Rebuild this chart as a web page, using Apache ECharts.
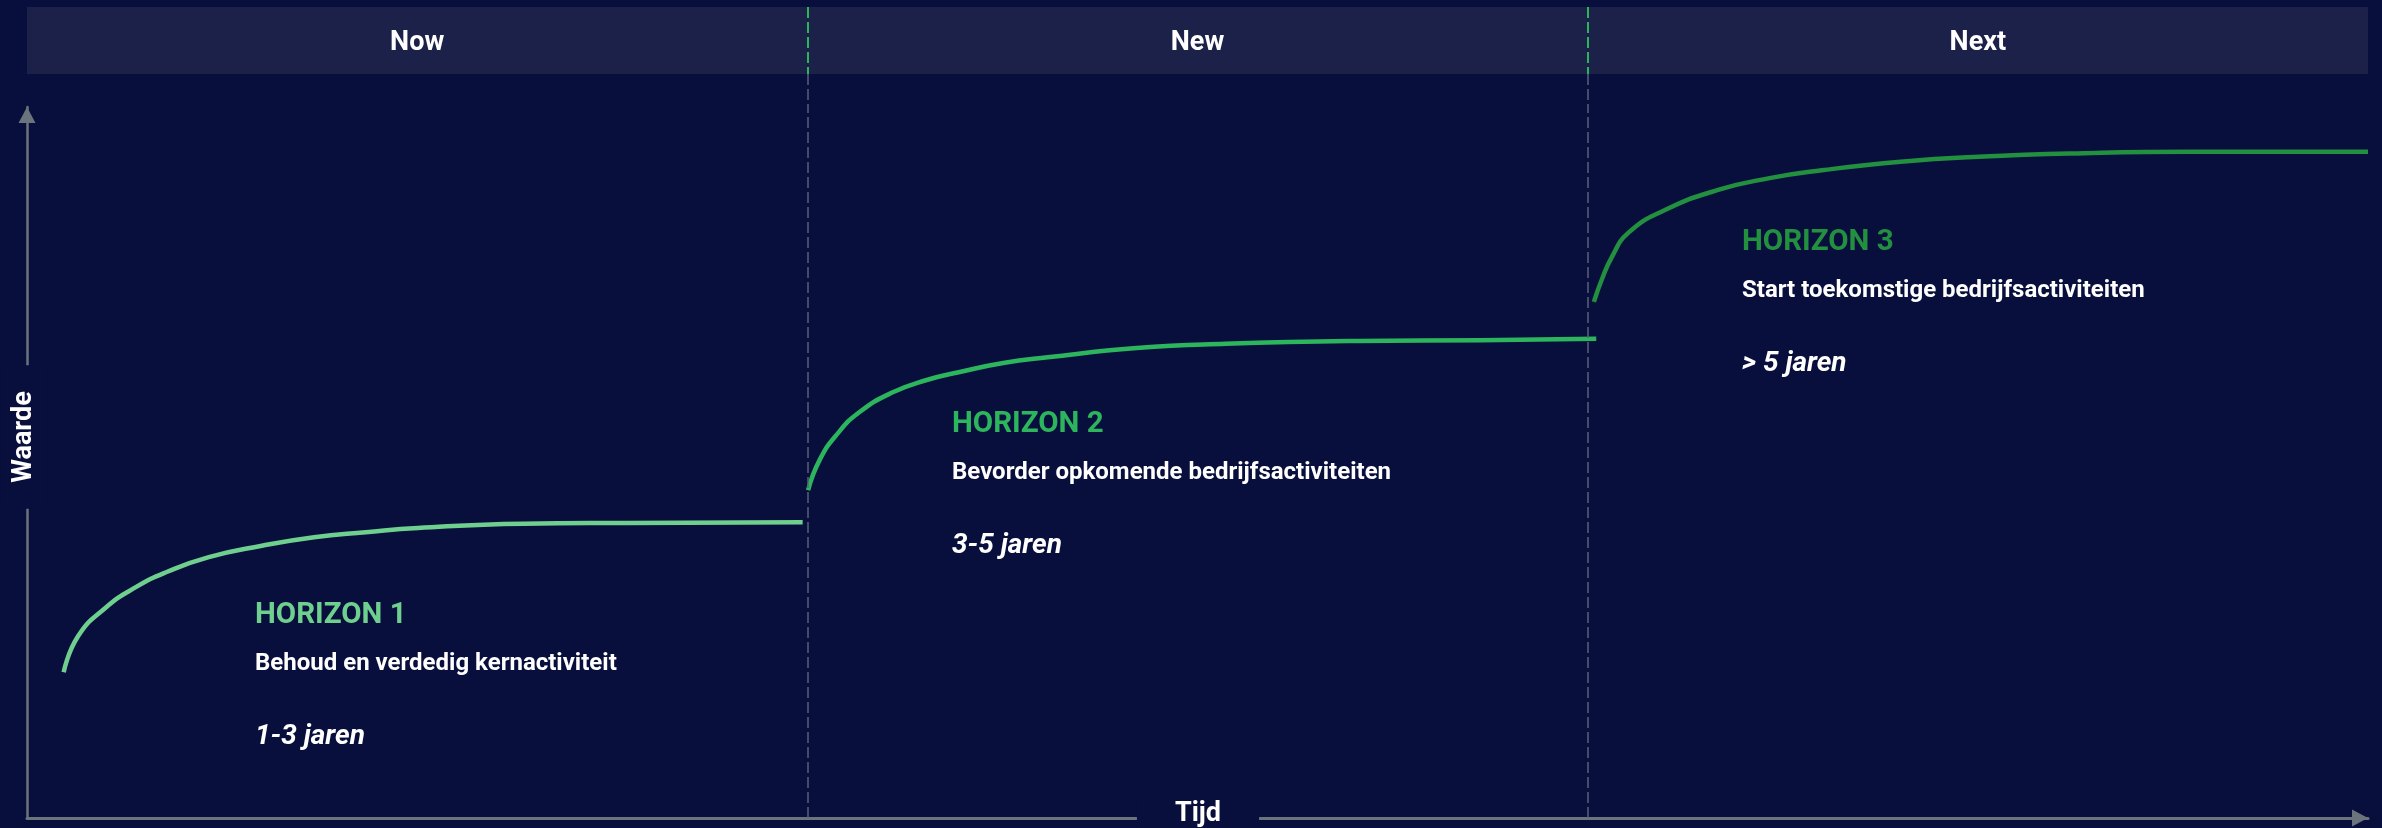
<!DOCTYPE html>
<html lang="nl">
  <head>
    <meta charset="UTF-8" />
    <title>Three horizons</title>
    <style>
      html,
      body {
        margin: 0;
        background: #090f3d;
      }
      #main {
        width: 2382px;
        height: 828px;
      }
    </style>
  </head>
  <body>
    <div id="main"></div>
    <script src="https://cdn.jsdelivr.net/npm/echarts@6/dist/echarts.min.js"></script>
    <script>
      // sections along the time axis
      const sections = ["Now", "New", "Next"];
      const horizonTitles = ["HORIZON 1", "HORIZON 2", "HORIZON 3"];
      const horizonTexts = [
        "Behoud en verdedig kernactiviteit",
        "Bevorder opkomende bedrijfsactiviteiten",
        "Start toekomstige bedrijfsactiviteiten",
      ];
      const horizonTerms = ["1-3 jaren", "3-5 jaren", "> 5 jaren"];
      const axisNames = ["Tijd", "Waarde"];

      // [tijd, waarde]
      const horizon1 = [
        [0.047, 20.5], [0.065, 25.5], [0.1, 29.5], [0.14, 32.5], [0.179, 34.6],
        [0.233, 36.7], [0.301, 38.3], [0.368, 39.5], [0.434, 40.2], [0.501, 40.8],
        [0.636, 41.4], [0.77, 41.5], [0.994, 41.6],
      ];
      const horizon2 = [
        [1.001, 46.1], [1.016, 50.4], [1.039, 54.1], [1.067, 57.1], [1.108, 59.8],
        [1.153, 61.6], [1.194, 62.7], [1.251, 64.0], [1.308, 64.8], [1.422, 66.1],
        [1.536, 66.7], [1.708, 67.1], [1.862, 67.2], [2.011, 67.4],
      ];
      const horizon3 = [
        [2.008, 72.6], [2.018, 75.7], [2.031, 78.9], [2.052, 82.3], [2.099, 85.5],
        [2.166, 88.3], [2.233, 90.0], [2.3, 91.1], [2.401, 92.3], [2.501, 93.0],
        [2.636, 93.5], [2.77, 93.7], [3.0, 93.7],
      ];

      const bg = "#090f3d";
      const axisGrey = "#6b737d";
      const colors = ["#6fcf8f", "#2db55d", "#22903f"];
      // left / middle of each text block, in px
      const textAnchors = [
        [255, 616],
        [952, 425],
        [1742, 243],
      ];

      const chart = echarts.init(document.getElementById("main"));

      const texts = [];
      horizonTitles.forEach((t, i) => {
        const [x, y] = textAnchors[i];
        texts.push(
          { type: "text", x: x, y: y, style: { text: t, fill: colors[i], font: "bold 29.5px Roboto", verticalAlign: "middle" } },
          { type: "text", x: x, y: y + 48, style: { text: horizonTexts[i], fill: "#ffffff", font: "bold 24px Roboto", verticalAlign: "middle" } },
          { type: "text", x: x, y: y + 121, style: { text: horizonTerms[i], fill: "#ffffff", font: "italic bold 28px Roboto", verticalAlign: "middle" } }
        );
      });
      // axis titles sit on the axis lines, with a box that breaks the line
      texts.push(
        {
          type: "text",
          x: 1198,
          y: 814,
          z: 100,
          style: {
            text: axisNames[0], fill: "#ffffff", font: "bold 27px Roboto",
            align: "center", verticalAlign: "middle", backgroundColor: bg, padding: [4, 38],
          },
        },
        {
          type: "text",
          x: 24,
          y: 437,
          rotation: Math.PI / 2,
          z: 100,
          style: {
            text: axisNames[1], fill: "#ffffff", font: "bold 27px Roboto",
            align: "center", verticalAlign: "middle", backgroundColor: bg, padding: [10, 26],
          },
        }
      );

      const lineOpts = {
        type: "line",
        xAxisIndex: 1,
        yAxisIndex: 1,
        smooth: 0.5,
        showSymbol: false,
      };

      const option = {
        backgroundColor: bg,
        animation: false,
        grid: [
          { left: 27, right: 14, top: 7, height: 100, outerBoundsMode: "none" },
          { left: 27, right: 14, top: 107, bottom: 10, outerBoundsMode: "none" },
        ],
        xAxis: [
          { type: "value", gridIndex: 0, min: 0, max: 3, show: false },
          {
            type: "value",
            gridIndex: 1,
            min: 0,
            max: 3,
            axisLine: {
              lineStyle: { color: axisGrey, width: 3 },
              symbol: ["none", "triangle"],
              symbolSize: [17, 16],
              symbolOffset: [0, -8],
            },
            axisTick: { show: false },
            axisLabel: { show: false },
            splitLine: { show: false },
          },
        ],
        yAxis: [
          { type: "value", gridIndex: 0, min: 0, max: 100, inverse: true, show: false },
          {
            type: "value",
            gridIndex: 1,
            min: 0,
            max: 100,
            axisLine: {
              lineStyle: { color: axisGrey, width: 2.5 },
              symbol: ["none", "triangle"],
              symbolSize: [17, 16],
              symbolOffset: [0, -8],
            },
            axisTick: { show: false },
            axisLabel: { show: false },
            splitLine: { show: false },
          },
        ],
        graphic: texts,
        series: [
          {
            // header band + divider tops
            type: "line",
            xAxisIndex: 0,
            yAxisIndex: 0,
            data: [[0, 0]],
            showSymbol: false,
            lineStyle: { width: 0 },
            silent: true,
            markArea: {
              silent: true,
              itemStyle: { color: "#1b2149" },
              label: {
                show: true,
                position: "inside",
                offset: [0, 3],
                color: "#ffffff",
                fontFamily: "Roboto",
                fontWeight: "bold",
                fontSize: 27,
              },
              data: sections.map((s, i) => [
                { name: s, coord: [i, 0] },
                { coord: [i + 1, 67] },
              ]),
            },
            markLine: {
              silent: true,
              symbol: "none",
              label: { show: false },
              data: [1, 2].flatMap((x) => [
                [
                  { coord: [x, 0], lineStyle: { color: "#2db35a", type: [11, 4], width: 2 } },
                  { coord: [x, 67] },
                ],
                [
                  { coord: [x, 67], lineStyle: { color: "#5a6278", type: [11, 4], width: 1.5 } },
                  { coord: [x, 100] },
                ],
              ]),
            },
          },
          Object.assign({}, lineOpts, {
            data: horizon1,
            lineStyle: { color: colors[0], width: 4.5 },
            markLine: {
              silent: true,
              symbol: "none",
              label: { show: false },
              lineStyle: { color: "#5a6278", type: [11, 4], width: 1.5 },
              data: [{ xAxis: 1 }, { xAxis: 2 }],
            },
          }),
          Object.assign({}, lineOpts, {
            data: horizon2,
            lineStyle: { color: colors[1], width: 4.5 },
          }),
          Object.assign({}, lineOpts, {
            data: horizon3,
            lineStyle: { color: colors[2], width: 4.5 },
          }),
        ],
      };
      chart.setOption(option);
    </script>
  </body>
</html>
